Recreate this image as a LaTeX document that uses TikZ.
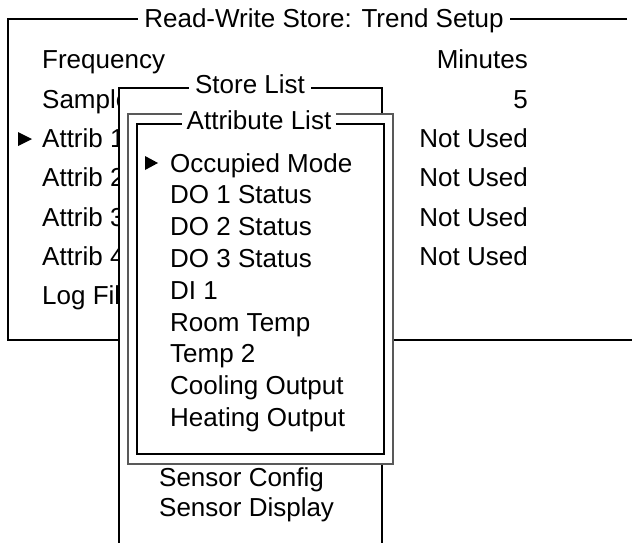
\documentclass[tikz,border=0pt]{standalone}
\usepackage{fontspec}
\setmainfont{Liberation Sans}
\usetikzlibrary{positioning}
\tikzset{
  entry/.style={anchor=base west,inner sep=0pt,font=\fontsize{26}{30}\selectfont},
  value/.style={anchor=base east,inner sep=0pt,font=\fontsize{26}{30}\selectfont},
  heading/.style={anchor=base,fill=white,inner xsep=6pt,inner ysep=2pt,font=\fontsize{26}{30}\selectfont},
  frame/.style={line width=1.6pt},
  pointer/.style={fill=black}
}
\begin{document}
\begin{tikzpicture}[x=1pt,y=-1pt]
    \useasboundingbox (0,0) rectangle (632,543);
    \draw[frame] (627,19) -- (8,19) -- (8,340) -- (632,340);
    \node[heading] (trend) at (324,28) {Read-Write Store: Trend Setup};
    \foreach \txt [count=\i from 0] in {Frequency,Sample,Attrib 1,Attrib 2,Attrib 3,Attrib 4,Log File}
        \node[entry] (field\i) at (42,69+39.3*\i) {\txt};
    \foreach \txt [count=\i from 0] in {Minutes,5,Not Used,Not Used,Not Used,Not Used}
        \node[value] (setting\i) at (528,69+39.3*\i) {\txt};
    \fill[pointer] (18,132) -- (32,139) -- (18,146) -- cycle;
    \draw[frame,fill=white] (119,543) -- (119,88) -- (382,88) -- (382,543);
    \node[heading] (store) at (250,93) {Store List};
    \node[entry] (config) at (159,486) {Sensor Config};
    \node[entry] (display) at (159,516) {Sensor Display};
    \draw[frame,draw=black!65,fill=white] (128,114) rectangle (393,464);
    \draw[frame] (137,124) rectangle (384,454);
    \node[heading,inner xsep=5pt] (attrib) at (259,129) {Attribute List};
    \foreach \txt [count=\i from 0] in {Occupied Mode,DO 1 Status,DO 2 Status,DO 3 Status,DI 1,Room Temp,Temp 2,Cooling Output,Heating Output}
        \node[entry] (attr\i) at (170,172+31.8*\i) {\txt};
    \fill[pointer] (145,156) -- (158,163) -- (145,170) -- cycle;
\end{tikzpicture}
\end{document}
